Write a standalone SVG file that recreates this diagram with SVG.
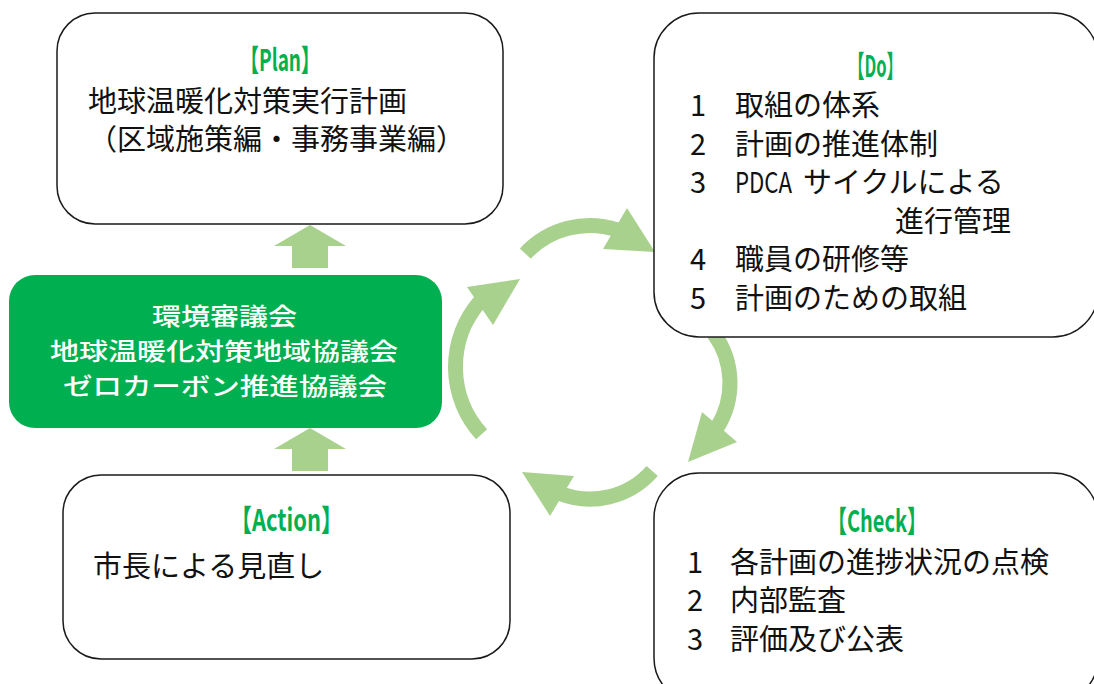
<svg xmlns="http://www.w3.org/2000/svg" width="1094" height="684" viewBox="0 0 1094 684">
<style>
.box{fill:#fff;stroke:#1a1a1a;stroke-width:1.5}
.t{font-family:"Noto Sans CJK JP","Noto Sans",sans-serif;font-size:29px;fill:#111}
.ttl{font-family:"Noto Sans CJK JP","Noto Sans",sans-serif;font-size:30px;font-weight:bold;fill:#00B050}
.w{font-family:"Noto Sans CJK JP","Noto Sans",sans-serif;font-size:24px;font-weight:500;fill:#fff}
.band{fill:none;stroke:#A9D18E;stroke-width:15}
.head{fill:#A9D18E}
</style>
<rect width="1094" height="684" fill="#fff"/>
<g id="connectors">
<polygon class="head" points="310,225 346,246 328,246 328,268 292,268 292,246 274,246"/>
<polygon class="head" points="310,428 346,449 328,449 328,471 292,471 292,449 274,449"/>
<path class="band" d="M525.3,253.6 A88.5,88.5 0 0 1 617.3,229.8"/>
<polygon class="head" points="627,208 655,252 603,249"/>
<path class="band" d="M713.8,333.6 A83.5,83.5 0 0 1 716.5,428.5"/>
<polygon class="head" points="702,412 737,442 688,462"/>
<path class="band" d="M652.2,471 A83,83 0 0 1 558.9,493"/>
<polygon class="head" points="574,476 550,516 522,472"/>
<path class="band" d="M481.6,434.2 A99.5,99.5 0 0 1 479.9,301.7"/>
<polygon class="head" points="467,287 520,279 493,325"/>
</g>
<g id="plan">
<rect class="box" x="57" y="13" width="446" height="211" rx="38"/>
<text class="ttl" x="240" y="71" textLength="80" lengthAdjust="spacingAndGlyphs">【Plan】</text>
<text class="t" x="88" y="112">地球温暖化対策実行計画</text>
<text class="t" x="88" y="150">（区域施策編・事務事業編）</text>
</g>
<g id="council">
<rect x="9" y="275" width="433" height="153" rx="26" fill="#00B050"/>
<text class="w" x="152" y="325" textLength="145" lengthAdjust="spacingAndGlyphs">環境審議会</text>
<text class="w" x="50" y="360" textLength="348" lengthAdjust="spacingAndGlyphs">地球温暖化対策地域協議会</text>
<text class="w" x="63" y="395" textLength="324" lengthAdjust="spacingAndGlyphs">ゼロカーボン推進協議会</text>
</g>
<g id="action">
<rect class="box" x="63" y="475" width="447" height="184" rx="38"/>
<text class="ttl" x="230" y="531" textLength="113" lengthAdjust="spacingAndGlyphs">【Action】</text>
<text class="t" x="93" y="577">市長による見直し</text>
</g>
<g id="do">
<rect class="box" x="654" y="13" width="444" height="324" rx="45"/>
<text class="ttl" x="848" y="77" textLength="55" lengthAdjust="spacingAndGlyphs">【Do】</text>
<text class="t" x="690" y="116">1</text><text class="t" x="735" y="116">取組の体系</text>
<text class="t" x="690" y="155">2</text><text class="t" x="735" y="155">計画の推進体制</text>
<text class="t" x="690" y="193">3</text><text class="t" x="735" y="193" textLength="57" lengthAdjust="spacingAndGlyphs">PDCA</text><text class="t" x="803" y="193">サイクルによる</text>
<text class="t" x="895" y="232">進行管理</text>
<text class="t" x="690" y="270">4</text><text class="t" x="735" y="270">職員の研修等</text>
<text class="t" x="690" y="309">5</text><text class="t" x="735" y="309">計画のための取組</text>
</g>
<g id="check">
<rect class="box" x="654" y="473" width="444" height="230" rx="45"/>
<text class="ttl" x="827" y="532" textLength="100" lengthAdjust="spacingAndGlyphs">【Check】</text>
<text class="t" x="687" y="573">1</text><text class="t" x="730" y="573">各計画の進捗状況の点検</text>
<text class="t" x="687" y="611">2</text><text class="t" x="730" y="611">内部監査</text>
<text class="t" x="687" y="650">3</text><text class="t" x="730" y="650">評価及び公表</text>
</g>
</svg>
